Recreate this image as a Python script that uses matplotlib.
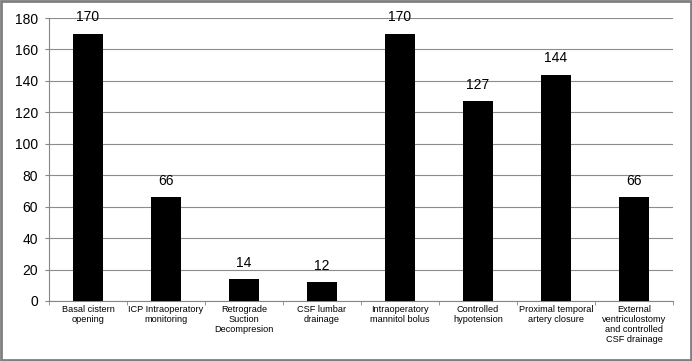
import matplotlib.pyplot as plt
import numpy as np

categories = ['Basal cistern\nopening', 'ICP Intraoperatory\nmonitoring',
              'Retrograde\nSuction\nDecompresion', 'CSF lumbar\ndrainage',
              'Intraoperatory\nmannitol bolus', 'Controlled\nhypotension',
              'Proximal temporal\nartery closure',
              'External\nventriculostomy\nand controlled\nCSF drainage']
values = [170, 66, 14, 12, 170, 127, 144, 66]

plt.rcParams['font.family'] = ['Liberation Sans', 'DejaVu Sans']

fig = plt.figure(figsize=(6.92, 3.61), dpi=100)
ax = fig.add_axes([49 / 692, 1 - 301 / 361, 624 / 692, 283 / 361])

x = np.arange(len(categories))
ax.bar(x, values, width=0.385, color='black', zorder=3)
for xi, v in zip(x, values):
    ax.text(xi, v + 6, str(v), ha='center', va='bottom', fontsize=10)

ax.set_xlim(-0.5, len(categories) - 0.5)
ax.set_ylim(0, 180)
ax.set_yticks(np.arange(0, 181, 20))
ax.tick_params(axis='y', labelsize=10, length=3, color='#868686', pad=5)
ax.set_xticks(np.arange(-0.5, len(categories), 1), minor=True)
ax.set_xticks(x)
ax.set_xticklabels(categories, fontsize=6.6, linespacing=1.15)
ax.tick_params(axis='x', which='major', length=0, pad=3)
ax.tick_params(axis='x', which='minor', length=3, color='#868686')
ax.grid(axis='y', color='#8c8c8c', linewidth=0.8, zorder=0)

for s in ['top', 'right']:
    ax.spines[s].set_visible(False)
for s in ['left', 'bottom']:
    ax.spines[s].set_color('#868686')
    ax.spines[s].set_linewidth(0.8)

fig.patches.append(plt.Rectangle((0.002, 0.003), 0.996, 0.994, transform=fig.transFigure,
                                 fill=False, edgecolor='#7f7f7f', linewidth=2))

fig.savefig('out.png', dpi=100)
